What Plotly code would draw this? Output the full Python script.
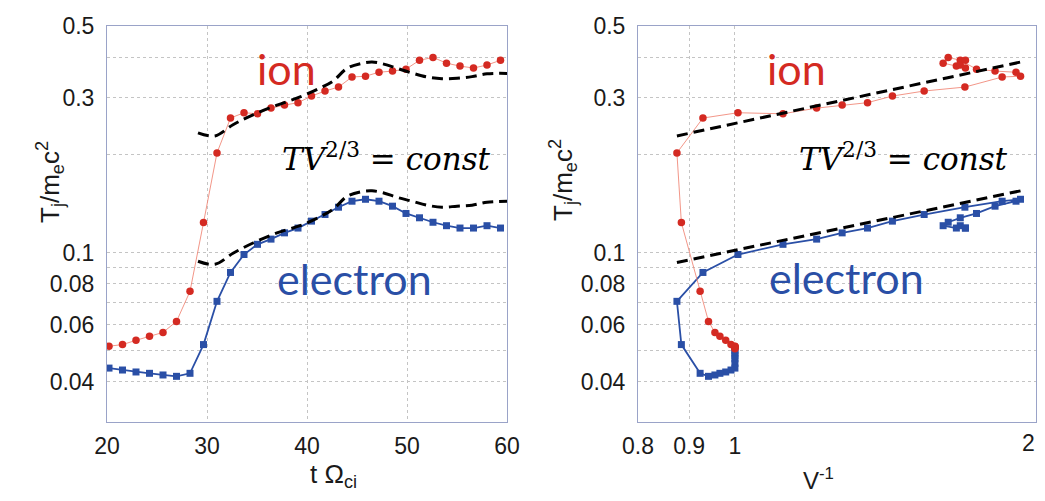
import plotly.graph_objects as go
import math

# ---------------- data ----------------
t = [20.2, 21.55, 22.9, 24.25, 25.6, 26.95, 28.3, 29.65, 31.0, 32.35, 33.7, 35.05,
     36.4, 37.75, 39.1, 40.45, 41.8, 43.15, 44.5, 45.85, 47.2, 48.55, 49.9, 51.25,
     52.6, 53.95, 55.3, 56.65, 58.0, 59.35]
T_ion = [0.0514, 0.052, 0.0536, 0.0552, 0.0567, 0.0613, 0.0759, 0.1237, 0.203, 0.26,
         0.27, 0.268, 0.279, 0.285, 0.29, 0.304, 0.315, 0.324, 0.348, 0.35, 0.36,
         0.363, 0.368, 0.392, 0.40, 0.384, 0.376, 0.371, 0.379, 0.392]
T_ele = [0.044, 0.0434, 0.0428, 0.0424, 0.0419, 0.0415, 0.0424, 0.052, 0.0707, 0.0868,
         0.0986, 0.106, 0.110, 0.115, 0.119, 0.125, 0.131, 0.138, 0.144, 0.146, 0.144,
         0.139, 0.132, 0.128, 0.124, 0.121, 0.119, 0.119, 0.121, 0.119]
V_inv = [1.0, 0.991, 0.979, 0.966, 0.955, 0.941, 0.923, 0.884, 0.875, 0.929, 1.007,
         1.117, 1.207, 1.28, 1.357, 1.437, 1.546, 1.698, 1.85, 1.93, 1.91, 1.82,
         1.744, 1.68, 1.634, 1.615, 1.665, 1.70, 1.68, 1.70]

# earlier samples (t < 20) visible only in the right panel, at V^-1 ~ 1
V_inv_pre = [1.0, 1.0, 1.0, 1.0, 1.0]
T_ion_pre = [0.0505, 0.0508, 0.051, 0.0512, 0.0513]
T_ele_pre = [0.050, 0.049, 0.048, 0.047, 0.0455]

# TV^{2/3} = const curves, left panel (vs time)
t_dash = [29.1, 30.8, 32.6, 34.6, 37.0, 39.3, 41.3, 42.6, 44.0, 45.4, 46.5, 47.6,
          49.0, 50.5, 52.0, 53.5, 55.0, 56.5, 58.0, 60.0]
ion_dash = [0.234, 0.229, 0.248, 0.266, 0.285, 0.302, 0.322, 0.338, 0.37, 0.383, 0.387,
            0.382, 0.37, 0.358, 0.348, 0.344, 0.345, 0.349, 0.356, 0.357]
ele_dash = [0.094, 0.092, 0.0995, 0.107, 0.115, 0.121, 0.129, 0.136, 0.149, 0.154, 0.155,
            0.153, 0.148, 0.144, 0.14, 0.138, 0.139, 0.14, 0.143, 0.144]

# right panel (vs V^-1): straight lines
vinv_dash = [0.875, 1.93]
ion_dash_r = [0.229, 0.387]
ele_dash_r = [0.0932, 0.155]

y_tickvals = [0.04, 0.06, 0.08, 0.1, 0.3, 0.5]
y_ticktext = ["0.04", "0.06", "0.08", "0.1", "0.3", "0.5"]
y_minor_grid = [0.05, 0.07, 0.09, 0.2, 0.4]
x1_ticks = [20, 30, 40, 50, 60]
x2_ticks = [0.8, 0.9, 1]
x2_ticktext = ["0.8", "0.9", "1"]
x2_edge_label = "2"   # drawn at the right edge of the panel

# ---------------- style ----------------
RED = "#d42a22"
RED_LINE = "#f08a7a"
BLUE = "#2a4fa6"
W, H = 1029, 485          # page body has an 8 px margin
FRAME = "#9aa3c8"
GRID = "#c4c4c4"
SANS = "Liberation Sans, Arial, sans-serif"
TICKFONT = dict(family=SANS, size=23, color="#1a1a1a")


def fx(px):  # screen px -> paper x
    return (px - 8) / W


def fy(py):  # screen px -> paper y
    return 1 - (py - 8) / H


fig = go.Figure()

# left panel
fig.add_trace(go.Scatter(x=t, y=T_ele, mode="lines+markers",
                         line=dict(color=BLUE, width=1.8),
                         marker=dict(symbol="square", size=7, color=BLUE),
                         xaxis="x", yaxis="y", showlegend=False))
fig.add_trace(go.Scatter(x=t, y=T_ion, mode="lines+markers",
                         line=dict(color=RED_LINE, width=0.9),
                         marker=dict(symbol="circle", size=7.5, color=RED),
                         xaxis="x", yaxis="y", showlegend=False))
for yd in (ion_dash, ele_dash):
    fig.add_trace(go.Scatter(x=t_dash, y=yd, mode="lines",
                             line=dict(color="black", width=3, dash="11px,6px", shape="spline"),
                             xaxis="x", yaxis="y", showlegend=False))

# right panel
fig.add_trace(go.Scatter(x=V_inv_pre + V_inv, y=T_ele_pre + T_ele, mode="lines+markers",
                         line=dict(color=BLUE, width=1.8),
                         marker=dict(symbol="square", size=7, color=BLUE),
                         xaxis="x2", yaxis="y2", showlegend=False))
fig.add_trace(go.Scatter(x=V_inv_pre + V_inv, y=T_ion_pre + T_ion, mode="lines+markers",
                         line=dict(color=RED_LINE, width=0.9),
                         marker=dict(symbol="circle", size=7.5, color=RED),
                         xaxis="x2", yaxis="y2", showlegend=False))
for yd in (ion_dash_r, ele_dash_r):
    fig.add_trace(go.Scatter(x=vinv_dash, y=yd, mode="lines",
                             line=dict(color="black", width=3, dash="11px,6px"),
                             xaxis="x2", yaxis="y2", showlegend=False))

ydom = [fy(422), fy(26)]
common_y = dict(type="log", range=[math.log10(0.03), math.log10(0.5)],
                tickmode="array", tickvals=y_tickvals, ticktext=y_ticktext, tickfont=TICKFONT,
                showgrid=True, gridcolor=GRID, griddash="dot", gridwidth=1,
                minor=dict(tickmode="array", tickvals=y_minor_grid, showgrid=True,
                           gridcolor=GRID, griddash="dot", gridwidth=1, ticks=""),
                showline=True, linecolor=FRAME, linewidth=1, mirror=True,
                ticks="", zeroline=False, automargin=False, ticklabelstandoff=7,
                domain=ydom)
common_x = dict(tickfont=TICKFONT, showgrid=True, gridcolor=GRID, griddash="dot", gridwidth=1,
                showline=True, linecolor=FRAME, linewidth=1, mirror=True,
                ticks="", zeroline=False, automargin=False, ticklabelstandoff=3)

fig.update_layout(
    width=W, height=H,
    margin=dict(l=0, r=0, t=0, b=0),
    paper_bgcolor="white", plot_bgcolor="white",
    xaxis=dict(range=[20, 60], tickmode="array", tickvals=x1_ticks, domain=[fx(107), fx(507)],
               anchor="y", **common_x),
    yaxis=dict(anchor="x", **common_y),
    xaxis2=dict(type="log", range=[math.log10(0.8), math.log10(2)], tickmode="array",
                tickvals=x2_ticks, ticktext=x2_ticktext, domain=[fx(638), fx(1036)],
                anchor="y2", **common_x),
    yaxis2=dict(anchor="x2", **common_y),
)

label_font = dict(family="Lato, Noto Sans, sans-serif", size=43)
eq_text = "<i>TV</i><sup>2/3</sup> = <i>const</i>"
eq_font = dict(family="DejaVu Serif, serif", size=31, color="black")

ann = []
# left panel labels
ann.append(dict(x=37.9, y=math.log10(0.37), xref="x", yref="y", text="ion", showarrow=False,
                font=dict(color=RED, **label_font)))
ann.append(dict(x=44.7, y=math.log10(0.083), xref="x", yref="y", text="electron", showarrow=False,
                font=dict(color=BLUE, **label_font)))
ann.append(dict(x=47.9, y=math.log10(0.197), xref="x", yref="y", text=eq_text, showarrow=False,
                font=eq_font))
# right panel labels
ann.append(dict(x=math.log10(1.153), y=math.log10(0.37), xref="x2", yref="y2", text="ion",
                showarrow=False, font=dict(color=RED, **label_font)))
ann.append(dict(x=math.log10(1.294), y=math.log10(0.084), xref="x2", yref="y2", text="electron",
                showarrow=False, font=dict(color=BLUE, **label_font)))
ann.append(dict(x=math.log10(1.475), y=math.log10(0.197), xref="x2", yref="y2", text=eq_text,
                showarrow=False, font=eq_font))

title_font = dict(family=SANS, size=26, color="#1a1a1a")
ytitle = "T<sub>j</sub>/m<sub>e</sub>c<sup>2</sup>"
ann.append(dict(x=fx(30), y=fy(182), xref="paper", yref="paper", text=ytitle, textangle=-90,
                showarrow=False, font=title_font))
ann.append(dict(x=fx(563), y=fy(180), xref="paper", yref="paper", text=ytitle, textangle=-90,
                showarrow=False, font=title_font))
ann.append(dict(x=fx(308), y=fy(457), xref="paper", yref="paper", yanchor="top",
                text="t Ω<sub>ci</sub>", showarrow=False,
                font=dict(family=SANS, size=26, color="#1a1a1a")))
ann.append(dict(x=fx(836), y=fy(462), xref="paper", yref="paper", yanchor="top",
                text="V<sup>-1</sup>", showarrow=False, font=dict(family=SANS, size=24, color="#1a1a1a")))
# the "2" tick label at the right edge
ann.append(dict(x=1.0, y=fy(443), xref="paper", yref="paper", xanchor="right", yanchor="middle",
                text=x2_edge_label, showarrow=False, font=TICKFONT))
fig.update_layout(annotations=ann)

fig.write_html("out.html")
